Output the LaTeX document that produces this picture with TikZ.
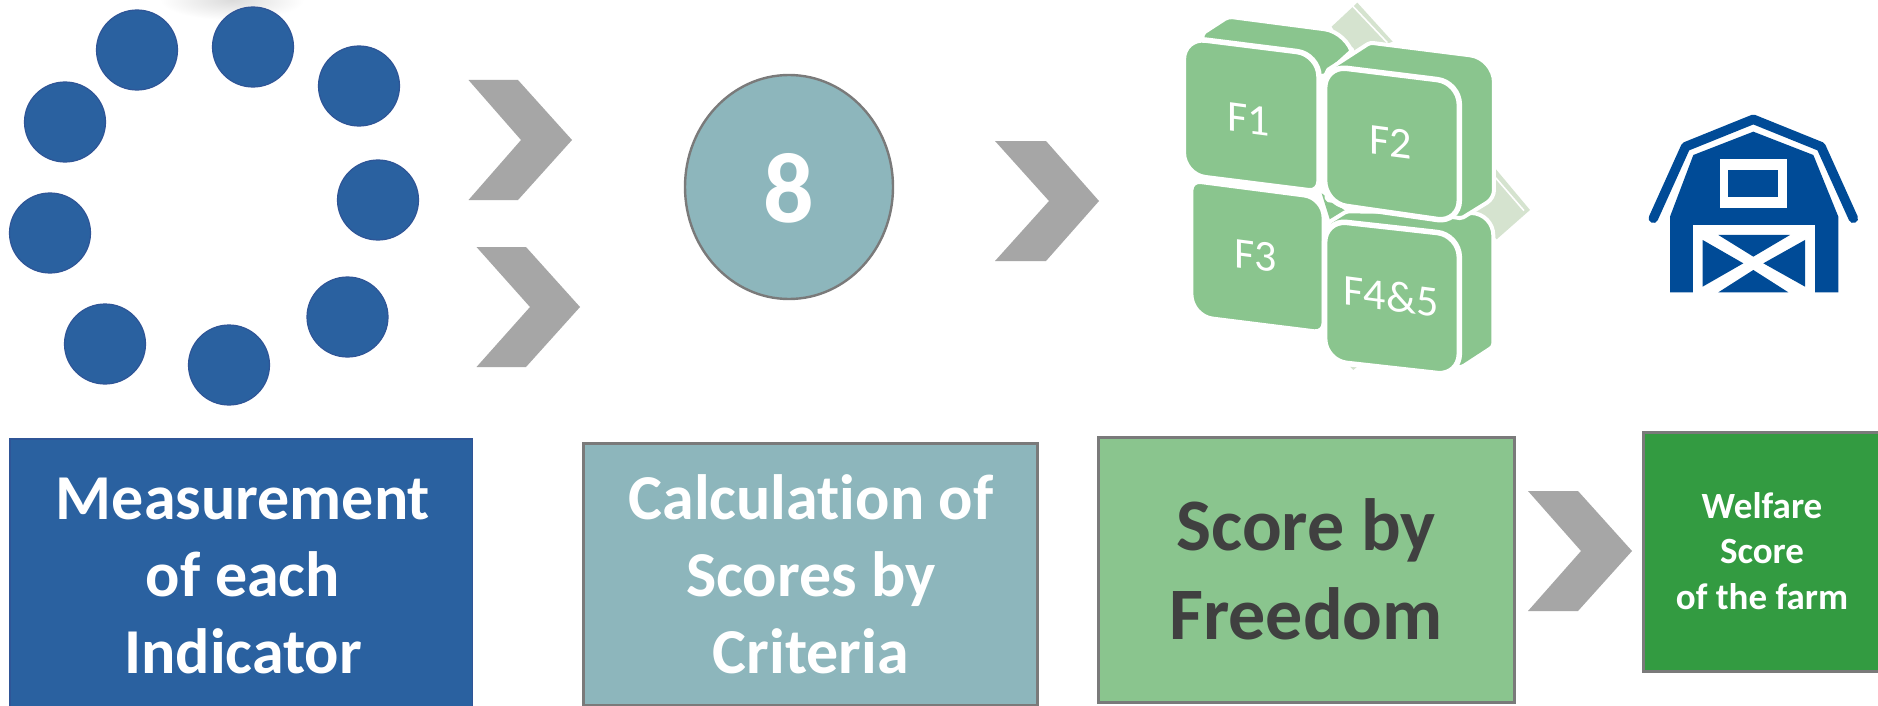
\documentclass[tikz,border=0pt]{standalone}
\usepackage{fontspec}
\setmainfont[Ligatures=NoCommon]{Carlito}
\usetikzlibrary{shapes.geometric}
\definecolor{dotblue}{HTML}{2A61A0}
\definecolor{dotedge}{HTML}{2F5597}
\definecolor{teal}{HTML}{8DB6BC}
\definecolor{edgegray}{HTML}{7A7A7A}
\definecolor{chev}{HTML}{A6A6A6}
\definecolor{lgreen}{HTML}{8AC58E}
\definecolor{pale}{HTML}{D5E3CF}
\definecolor{dgreen}{HTML}{339B41}
\definecolor{barn}{HTML}{004B97}
\definecolor{darktext}{HTML}{404040}
\tikzset{
  dot/.style={ellipse,draw=dotedge,line width=1.2pt,fill=dotblue,minimum width=81pt,minimum height=80pt,inner sep=0pt},
  chevron/.style={fill=chev,draw=none},
  captext/.style={anchor=base,inner sep=0pt,align=center,font=\bfseries\fontsize{64}{77}\selectfont,text=white},
  face/.style={fill=lgreen,draw=white,line width=5.5pt,line join=round},
  back/.style={fill=lgreen,draw=white,line width=4pt,line join=round},
  paleface/.style={fill=pale,draw=none},
  paleline/.style={draw=white,line width=1.6pt},
  flabel/.style={inner sep=0pt,text=white,font=\fontsize{44}{50}\selectfont,yslant=-0.13,transform shape},
  barnfill/.style={fill=barn,draw=none},
  barnwhite/.style={fill=white,draw=none}
}
\begin{document}
\begin{tikzpicture}[x=1pt,y=-1pt]
\useasboundingbox (0,0) rectangle (1878,706);
\fill[white] (0,0) rectangle (1878,706);
% faint shadow at the top edge
\shade[inner color=black!14,outer color=white,draw=none] (232,0) ellipse (72pt and 20pt);
% indicator dots
\node[dot] (d1) at (137,50) {};
\node[dot] (d2) at (253,47) {};
\node[dot] (d3) at (359,86) {};
\node[dot] (d4) at (378,200) {};
\node[dot] (d5) at (347.5,317) {};
\node[dot] (d6) at (229,365) {};
\node[dot] (d7) at (105,344) {};
\node[dot] (d8) at (50,233) {};
\node[dot] (d9) at (65,122) {};
% chevrons
\fill[chevron] (468.5,80) -- (518,80) -- (572,140) -- (518,200) -- (468.5,200) -- (521,140) -- cycle;
\fill[chevron] (476.5,247) -- (526,247) -- (580,307) -- (526,367) -- (476.5,367) -- (530,307) -- cycle;
\fill[chevron] (995,141) -- (1046,141) -- (1099,201) -- (1046,261) -- (995,261) -- (1049,201) -- cycle;
\fill[chevron] (1528,491) -- (1578,491) -- (1632,551) -- (1578,611) -- (1528,611) -- (1581,551) -- cycle;
% criteria circle
\node[ellipse,draw=edgegray,line width=2.4pt,fill=teal,minimum width=208pt,minimum height=224pt,inner sep=0pt] (crit) at (789,187) {};
\node[anchor=base,inner sep=0pt,text=white,font=\bfseries\fontsize{100}{100}\selectfont] (eight) at (789,222) {8};
% bottom panels
\path[fill=dotblue,draw=dotedge,line width=1.2pt] (10,439) rectangle (472.5,708);
\node[captext] (mtxt) at (243,673) {Measurement\\of each\\Indicator};
\path[fill=teal,draw=edgegray,line width=3pt] (583,443) rectangle (1037,705);
\node[captext] (ctxt) at (811,673) {Calculation of\\Scores by\\Criteria};
\path[fill=lgreen,draw=edgegray,line width=3pt] (1098,437) rectangle (1514,702);
\node[captext,text=darktext,font=\bfseries\fontsize{74}{89}\selectfont] (ftxt) at (1306,639) {Score by\\Freedom};
\path[fill=dgreen,draw=edgegray,line width=3pt] (1643,432) rectangle (1882,671);
\node[captext,font=\bfseries\fontsize{37}{45.5}\selectfont] (wtxt) at (1762,609) {Welfare\\Score\\of the farm};
% freedom blocks
\begin{scope}[shift={(1150,0)},x=0.3333pt,y=-0.3333pt]
  \fill[paleface] (545,80) -- (622,8) -- (728,125) -- (600,170) -- cycle;
  \draw[paleline] (606,16) -- (712,128);
  \fill[paleface] (970,625) -- (1038,508) -- (1140,630) -- (1040,718) -- (1000,680) -- cycle;
  \draw[paleline] (1034,530) -- (1122,632);
  \fill[paleface] (600,1100) -- (622,1100) -- (610,1110) -- cycle;
  \fill[lgreen] (515,580) -- (585,632) -- (540,660) -- cycle;
  % top and side of the blocks
  \path[back,rounded corners=4pt] (158,100) -- (235,50) [rounded corners=24pt] -- (595,97) [rounded corners=2pt] -- (606,152) -- (520,230) -- (158,130) -- cycle;
  \path[back,rounded corners=2pt] (535,668) -- (590,634) [rounded corners=22pt] -- (1030,640) [rounded corners=3pt] -- (1030,1040) -- (935,1102) -- (535,1080) -- cycle;
  \path[back,rounded corners=3pt] (530,212) -- (660,128) [rounded corners=24pt] -- (1032,175) [rounded corners=8pt] -- (1032,595) [rounded corners=2pt] -- (935,655) -- (530,600) -- cycle;
  % front faces
  \path[face,rounded corners=22pt] (100,112) -- (507,163) [rounded corners=10pt] -- (507,576) [rounded corners=22pt] -- (100,525) -- cycle;
  \path[face,rounded corners=12pt] (122,540) [rounded corners=20pt] -- (523,592) [rounded corners=10pt] -- (523,1000) [rounded corners=22pt] -- (122,950) [rounded corners=10pt] -- cycle;
  \path[face,rounded corners=22pt] (524,197) -- (928,247) -- (928,668) -- (524,610) -- cycle;
  \path[face,rounded corners=22pt] (524,660) -- (928,705) -- (928,1128) -- (524,1083) -- cycle;
\end{scope}
\node[flabel] (f1) at (1249,119) {F1};
\node[flabel] (f2) at (1391,142) {F2};
\node[flabel] (f3) at (1256,256) {F3};
\node[flabel] (f4) at (1391,296) {F4\&5};
% barn
\begin{scope}[shift={(1620,90)},x=0.3333pt,y=-0.3333pt]
  \draw[barn,line width=9.5pt,line cap=round,line join=round] (100,385) -- (197,170) -- (400,88) -- (603,170) -- (700,385);
  \fill[barnfill] (150,607) -- (150,380) -- (220,195) -- (400,125) -- (580,195) -- (655,380) -- (655,607) -- cycle;
  \fill[barnwhite] (300,208) rectangle (500,355);
  \fill[barnfill] (325,240) rectangle (475,320);
  \fill[barnwhite] (218,405) rectangle (585,612);
  \fill[barnfill] (295,435) -- (510,435) -- (400,500) -- cycle;
  \fill[barnfill] (248,450) -- (370,520) -- (248,590) -- cycle;
  \fill[barnfill] (555,450) -- (430,520) -- (555,590) -- cycle;
  \fill[barnfill] (295,607) -- (400,540) -- (505,607) -- cycle;
\end{scope}
\end{tikzpicture}
\end{document}
